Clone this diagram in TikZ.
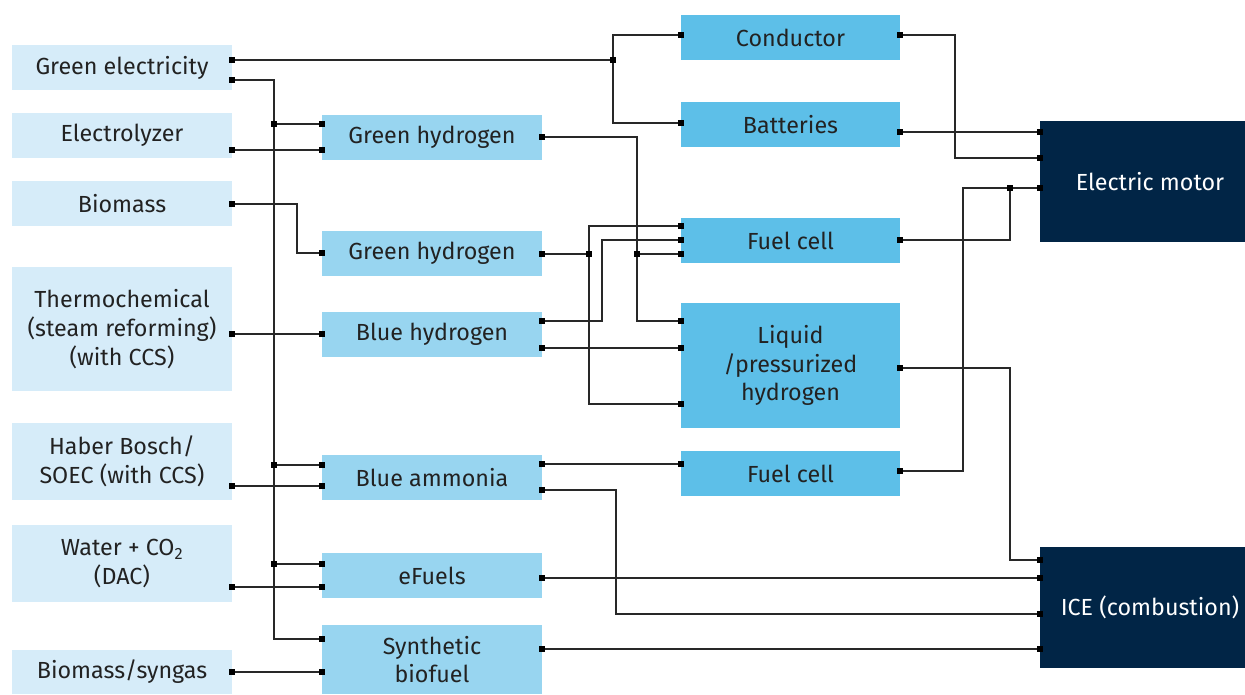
\documentclass[tikz,border=0pt]{standalone}
\usepackage{fontspec}
\setmainfont{Fira Sans}
\definecolor{srcfill}{RGB}{214,236,249}
\definecolor{midfill}{RGB}{152,213,240}
\definecolor{usefill}{RGB}{93,191,232}
\definecolor{endfill}{RGB}{1,37,70}
\definecolor{ink}{RGB}{34,34,34}
\definecolor{wire}{RGB}{40,40,40}
\begin{document}
\begin{tikzpicture}[x=1pt,y=-1pt,
  box/.style={rectangle, inner sep=0pt, align=center, text=ink,
    font=\fontsize{23.3}{28.8}\selectfont},
  srcbox/.style={box, fill=srcfill, minimum width=220pt},
  midbox/.style={box, fill=midfill, minimum width=220pt},
  usebox/.style={box, fill=usefill, minimum width=219pt},
  endbox/.style={box, fill=endfill, text=white, minimum width=220pt},
  wire/.style={draw=wire, line width=1.2pt}]
\useasboundingbox (0,0) rectangle (1245,694);
\clip (0,0) rectangle (1245,694);

% sources
\node[srcbox, minimum height=45pt]  (ge) at (122,67.5) {Green electricity};
\node[srcbox, minimum height=45pt]  (el) at (122,135.5) {Electrolyzer};
\node[srcbox, minimum height=45pt]  (bm) at (122,203.5) {Biomass};
\node[srcbox, minimum height=124pt] (tc) at (122,329) {Thermochemical\\(steam reforming)\\(with CCS)};
\node[srcbox, minimum height=77pt]  (hb) at (122,461.5) {Haber Bosch/\\SOEC (with CCS)};
\node[srcbox, minimum height=77pt]  (wc) at (122,563.5) {Water + CO\textsubscript{2}\\(DAC)};
\node[srcbox, minimum height=44pt]  (bs) at (122,672) {Biomass/syngas};

% carriers
\node[midbox, minimum height=45pt] (gh1) at (432,137.5) {Green hydrogen};
\node[midbox, minimum height=45pt] (gh2) at (432,253.5) {Green hydrogen};
\node[midbox, minimum height=45pt] (bh)  at (432,334.5) {Blue hydrogen};
\node[midbox, minimum height=45pt] (ba)  at (432,477.5) {Blue ammonia};
\node[midbox, minimum height=45pt] (ef)  at (432,575.5) {eFuels};
\node[midbox, minimum height=69pt] (sb)  at (432,659.5) {Synthetic\\biofuel};

% conversion
\node[usebox, minimum height=45pt]  (co)  at (790.5,37.5) {Conductor};
\node[usebox, minimum height=45pt]  (bt)  at (790.5,124.5) {Batteries};
\node[usebox, minimum height=45pt]  (fc1) at (790.5,240.5) {Fuel cell};
\node[usebox, minimum height=125pt] (lq)  at (790.5,365.5) {Liquid\\/pressurized\\hydrogen};
\node[usebox, minimum height=45pt]  (fc2) at (790.5,473.5) {Fuel cell};

% end uses
\node[endbox, minimum height=121pt] (em)  at (1150,181.5) {Electric motor};
\node[endbox, minimum height=121pt] (ice) at (1150,607.5) {ICE (combustion)};

% ports
\coordinate (ge-e1) at (232,60);  \coordinate (ge-e2) at (232,80);
\coordinate (el-e) at (232,150);  \coordinate (bm-e) at (232,204);
\coordinate (tc-e) at (232,334);  \coordinate (hb-e) at (232,486);
\coordinate (wc-e) at (232,587);  \coordinate (bs-e) at (232,672);

\coordinate (gh1-w1) at (322,124); \coordinate (gh1-w2) at (322,150); \coordinate (gh1-e) at (542,137);
\coordinate (gh2-w) at (322,253);  \coordinate (gh2-e) at (542,254);
\coordinate (bh-w) at (322,334);   \coordinate (bh-e1) at (542,321);  \coordinate (bh-e2) at (542,348);
\coordinate (ba-w1) at (322,465);  \coordinate (ba-w2) at (322,486);
\coordinate (ba-e1) at (542,464);  \coordinate (ba-e2) at (542,490);
\coordinate (ef-w1) at (322,564);  \coordinate (ef-w2) at (322,587);  \coordinate (ef-e) at (542,578);
\coordinate (sb-w1) at (322,639);  \coordinate (sb-w2) at (322,672);  \coordinate (sb-e) at (542,649);

\coordinate (co-w) at (681,35);   \coordinate (co-e) at (900,35);
\coordinate (bt-w) at (681,123);  \coordinate (bt-e) at (900,132);
\coordinate (fc1-w1) at (681,226); \coordinate (fc1-w2) at (681,240); \coordinate (fc1-w3) at (681,254);
\coordinate (fc1-e) at (900,240);
\coordinate (lq-w1) at (681,321); \coordinate (lq-w2) at (681,348); \coordinate (lq-w3) at (681,404);
\coordinate (lq-e) at (900,368);
\coordinate (fc2-w) at (681,464); \coordinate (fc2-e) at (900,471);

\coordinate (em-w1) at (1040,132); \coordinate (em-w2) at (1040,158); \coordinate (em-w3) at (1040,188);
\coordinate (ice-w1) at (1040,560); \coordinate (ice-w2) at (1040,578);
\coordinate (ice-w3) at (1040,614); \coordinate (ice-w4) at (1040,649);

% junctions and bends
\coordinate (jc) at (613,60);
\coordinate (jb1) at (274,124); \coordinate (jb2) at (274,465); \coordinate (jb3) at (274,564);
\coordinate (jh) at (589,254);  \coordinate (jg) at (637,254);
\coordinate (jm) at (1010,188);
\coordinate (kbm) at (297,230);
\coordinate (kbh) at (602,280);
\coordinate (kba) at (616,550);
\coordinate (kco) at (955,100);
\coordinate (kfc) at (963,300);
\coordinate (klq) at (1010,450);

% connectors
\draw[wire] (ge-e1) -- (jc);
\draw[wire] (co-w) -| (jc) |- (bt-w);
\draw[wire] (ge-e2) -| (jb1) -- (jb2) -- (jb3) |- (sb-w1);
\draw[wire] (jb1) -- (gh1-w1);
\draw[wire] (jb2) -- (ba-w1);
\draw[wire] (jb3) -- (ef-w1);
\draw[wire] (el-e) -- (gh1-w2);
\draw[wire] (bm-e) -| (kbm) |- (gh2-w);
\draw[wire] (tc-e) -- (bh-w);
\draw[wire] (hb-e) -- (ba-w2);
\draw[wire] (wc-e) -- (ef-w2);
\draw[wire] (bs-e) -- (sb-w2);

\draw[wire] (gh1-e) -| (jg) |- (lq-w1);
\draw[wire] (jg) -- (fc1-w3);
\draw[wire] (gh2-e) -- (jh);
\draw[wire] (fc1-w1) -| (jh) |- (lq-w3);
\draw[wire] (bh-e1) -| (kbh) |- (fc1-w2);
\draw[wire] (bh-e2) -- (lq-w2);
\draw[wire] (ba-e1) -- (fc2-w);
\draw[wire] (ba-e2) -| (kba) |- (ice-w3);
\draw[wire] (ef-e) -- (ice-w2);
\draw[wire] (sb-e) -- (ice-w4);

\draw[wire] (co-e) -| (kco) |- (em-w2);
\draw[wire] (bt-e) -- (em-w1);
\draw[wire] (fc1-e) -| (jm);
\draw[wire] (fc2-e) -| (kfc) |- (em-w3);
\draw[wire] (lq-e) -| (klq) |- (ice-w1);

% port and junction markers
\foreach \p in {ge-e1,ge-e2,el-e,bm-e,tc-e,hb-e,wc-e,bs-e,
  gh1-w1,gh1-w2,gh1-e,gh2-w,gh2-e,bh-w,bh-e1,bh-e2,ba-w1,ba-w2,ba-e1,ba-e2,
  ef-w1,ef-w2,ef-e,sb-w1,sb-w2,sb-e,
  co-w,co-e,bt-w,bt-e,fc1-w1,fc1-w2,fc1-w3,fc1-e,lq-w1,lq-w2,lq-w3,lq-e,fc2-w,fc2-e,
  em-w1,em-w2,em-w3,ice-w1,ice-w2,ice-w3,ice-w4,
  jc,jb1,jb2,jb3,jh,jg,jm}
  \fill[black] (\p) +(-3,-3) rectangle +(3,3);
\end{tikzpicture}
\end{document}
